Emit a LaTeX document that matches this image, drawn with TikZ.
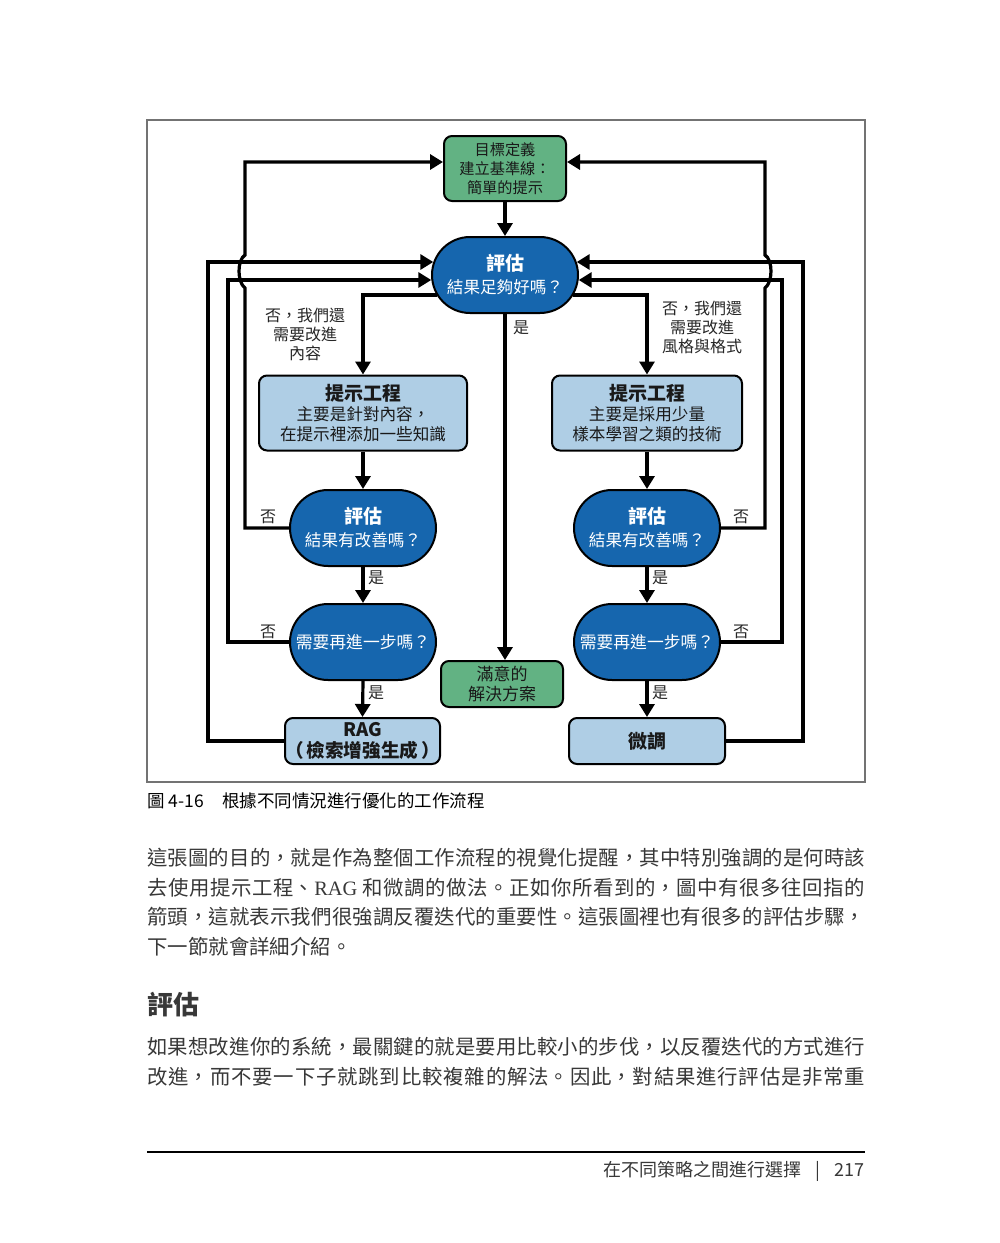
\documentclass[tikz,border=0pt]{standalone}
\usepackage{fontspec}
\setmainfont{Noto Sans CJK TC}
\newfontfamily\latinserif{Liberation Serif}
\usetikzlibrary{arrows.meta}
\usetikzlibrary{positioning}
\usetikzlibrary{shapes.misc}
\usetikzlibrary{calc}
\XeTeXlinebreaklocale "zh"
\XeTeXlinebreakskip=0pt plus 1pt minus 0.1pt
\definecolor{flowgreen}{HTML}{62B283}
\definecolor{flowblue}{HTML}{1666AE}
\definecolor{flowpale}{HTML}{AFCEE5}
\definecolor{bodygray}{HTML}{383838}
\tikzset{flowline/.style = {line width=1.6pt},
         flowarrow/.style = {line width=1.6pt, -{Triangle[length=6.5pt,width=7.5pt]}},
         goalbox/.style = {draw, line width=1pt, rounded corners=4pt, fill=flowgreen,
                           align=center, inner sep=0pt, text=black!90},
         techbox/.style = {draw, line width=1pt, rounded corners=4pt, fill=flowpale,
                           align=center, inner sep=0pt, text=black!90,
                           font=\fontsize{8.3}{10}\selectfont},
         evalpill/.style = {rounded rectangle, draw, line width=1pt, fill=flowblue,
                            text=white, align=center, inner sep=0pt,
                            minimum width=73pt, minimum height=38pt},
         flowlabel/.style = {align=center, inner sep=0pt, text=black!85,
                             font=\fontsize{8}{9.5}\selectfont},
         pagetext/.style = {inner sep=0pt, text=bodygray}}

\begin{document}
\begin{tikzpicture}[x=0.5pt, y=-0.5pt]
      \useasboundingbox (0, 0) rectangle (1000, 1243);
      \draw [black!55, line width=0.6pt] (147, 120) rectangle (865, 782);

      \node [goalbox, minimum width=61pt, minimum height=32.5pt,
             font=\fontsize{7.6}{9.5}\selectfont] (goal) at (505, 168.5)
            {目標定義\\建立基準線：\\簡單的提示};
      \node [evalpill, font=\fontsize{8.3}{11.5}\selectfont] (evaltop) at (505, 275)
            {{\bfseries\fontsize{9.5}{11.5}\selectfont 評估}\\結果足夠好嗎？};
      \node [techbox, minimum width=104pt, minimum height=37.5pt] (pel) at (363, 413)
            {{\bfseries\fontsize{9.5}{10.5}\selectfont 提示工程}\\主要是針對內容，\\在提示裡添加一些知識};
      \node [techbox, minimum width=95pt, minimum height=37.5pt] (per) at (647, 413)
            {{\bfseries\fontsize{9.5}{10.5}\selectfont 提示工程}\\主要是採用少量\\樣本學習之類的技術};
      \node [evalpill, font=\fontsize{8.3}{11.5}\selectfont] (evall) at (363, 528)
            {{\bfseries\fontsize{9.5}{11.5}\selectfont 評估}\\結果有改善嗎？};
      \node [evalpill, font=\fontsize{8.3}{11.5}\selectfont] (evalr) at (647, 528)
            {{\bfseries\fontsize{9.5}{11.5}\selectfont 評估}\\結果有改善嗎？};
      \node [evalpill, font=\fontsize{8.4}{10}\selectfont] (morel) at (363, 642) {需要再進一步嗎？};
      \node [evalpill, font=\fontsize{8.4}{10}\selectfont] (morer) at (647, 642) {需要再進一步嗎？};
      \node [goalbox, minimum width=61pt, minimum height=23pt,
             font=\fontsize{8.5}{10}\selectfont] (done) at (502, 684) {滿意的\\解決方案};
      \node [techbox, minimum width=77.5pt, minimum height=23pt,
             font=\bfseries\fontsize{9.3}{10.5}\selectfont] (rag) at (362.5, 741)
            {RAG\\（\,檢索增強生成\,）};
      \node [techbox, minimum width=78pt, minimum height=23pt,
             font=\bfseries\fontsize{9.5}{10.5}\selectfont] (ft) at (647, 741) {微調};

      \draw [flowarrow] (goal.south) -- (evaltop.north);
      \draw [flowarrow] (evaltop.south) -- (evaltop.south |- done.north);
      \draw [flowarrow] ($(evaltop.west)+(5.7, 20)$) -| (pel.north);
      \draw [flowarrow] ($(evaltop.east)+(-5.7, 20)$) -| (per.north);
      \draw [flowarrow] (pel.south) -- (evall.north);
      \draw [flowarrow] (per.south) -- (evalr.north);
      \draw [flowarrow] (evall.south) -- (morel.north);
      \draw [flowarrow] (evalr.south) -- (morer.north);
      \draw [flowarrow] (morel.south) -- (rag.north);
      \draw [flowarrow] (morer.south) -- (ft.north);

      \draw [flowarrow] (evall.west) -- (245, 528) -- (245, 288)
            .. controls (237, 282) and (237, 260) .. (245, 255)
            -- (245, 162) -- ($(goal.west)+(0, -6.5)$);
      \draw [flowarrow] (evalr.east) -- (765, 528) -- (765, 288)
            .. controls (773, 282) and (773, 260) .. (765, 255)
            -- (765, 162) -- ($(goal.east)+(0, -6.5)$);
      \draw [flowarrow] (morel.west) -- (228, 642) -- (228, 280) -- ($(evaltop.west)+(0.3, 5)$);
      \draw [flowarrow] (rag.west) -- (208, 741) -- (208, 262) -- ($(evaltop.west)+(2.3, -13)$);
      \draw [flowarrow] (morer.east) -- (782, 642) -- (782, 280) -- ($(evaltop.east)+(-0.3, 5)$);
      \draw [flowarrow] (ft.east) -- (803, 741) -- (803, 262) -- ($(evaltop.east)+(-2.3, -13)$);

      \node [flowlabel] (yestop) at (521, 328) {是};
      \node [flowlabel] (nocontent) at (305, 334) {否，我們還\\需要改進\\內容};
      \node [flowlabel] (nostyle) at (702, 327) {否，我們還\\需要改進\\風格與格式};
      \node [flowlabel] (noevall) at (268, 517) {否};
      \node [flowlabel] (noevalr) at (741, 517) {否};
      \node [flowlabel] (yesevall) at (376, 578) {是};
      \node [flowlabel] (yesevalr) at (660, 578) {是};
      \node [flowlabel] (nomorel) at (268, 632) {否};
      \node [flowlabel] (nomorer) at (741, 632) {否};
      \node [flowlabel] (yesmorel) at (376, 693) {是};
      \node [flowlabel] (yesmorer) at (660, 693) {是};

      \node [pagetext, anchor=west, text=black, font=\fontsize{8.75}{10}\selectfont] (caption)
            at (147, 801) {圖 4-16\hspace{9pt}根據不同情況進行優化的工作流程};
      \node [pagetext, anchor=north west, text width=359pt, align=justify,
             font=\fontsize{10.2}{14.75}\selectfont] (parone) at (147, 848)
            {這張圖的目的，就是作為整個工作流程的視覺化提醒，其中特別強調的是何時該\linebreak
             去使用提示工程、{\latinserif RAG} 和微調的做法。正如你所看到的，圖中有很多往回指的\linebreak
             箭頭，這就表示我們很強調反覆迭代的重要性。這張圖裡也有很多的評估步驟，\linebreak
             下一節就會詳細介紹。};
      \node [pagetext, anchor=west, font=\bfseries\fontsize{13}{15}\selectfont] (heading)
            at (147, 1005) {評估};
      \node [pagetext, anchor=north west, text width=359pt, align=justify,
             font=\fontsize{10.2}{14.75}\selectfont] (partwo) at (147, 1037)
            {如果想改進你的系統，最關鍵的就是要用比較小的步伐，以反覆迭代的方式進行\linebreak
             改進，而不要一下子就跳到比較複雜的解法。因此，對結果進行評估是非常重\parfillskip=0pt\par};

      \draw [line width=0.6pt] (147, 1152) -- (865, 1152);
      \node [pagetext, anchor=east, font=\fontsize{9}{10}\selectfont] (footer) at (865, 1171)
            {在不同策略之間進行選擇\hspace{7pt}|\hspace{7pt}217};
    \end{tikzpicture}
\end{document}
